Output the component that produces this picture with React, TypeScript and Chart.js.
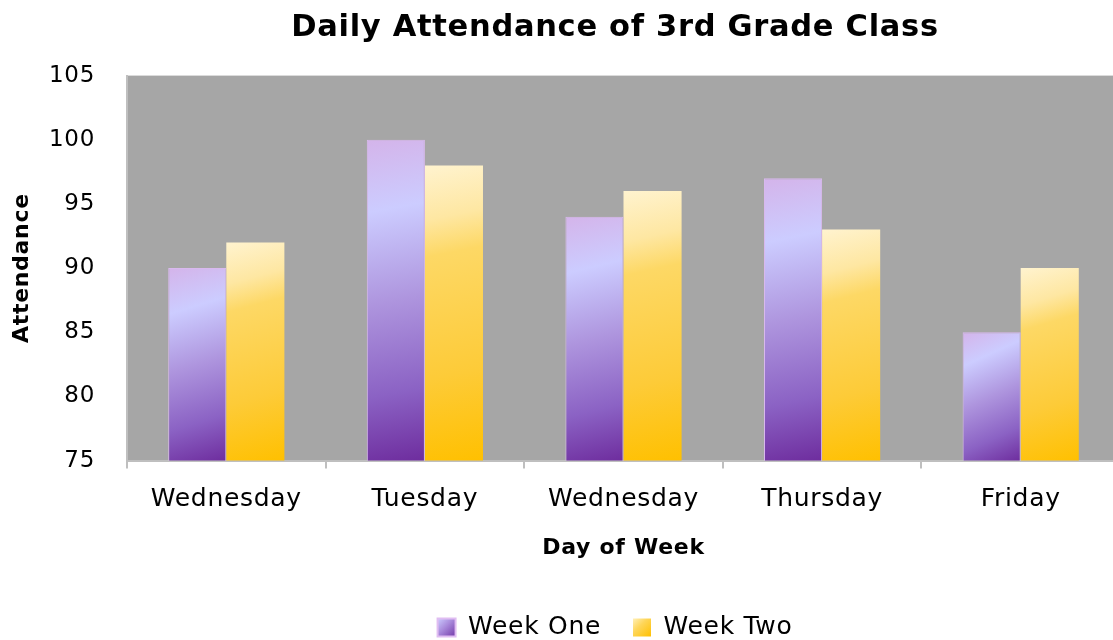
import React, { useEffect, useRef } from "react";
import { Chart, registerables } from "chart.js";

Chart.register(...registerables);

const days = ["Wednesday", "Tuesday", "Wednesday", "Thursday", "Friday"];
const weekOne = [90, 100, 94, 97, 85];
const weekTwo = [92, 98, 96, 93, 90];
const seriesNames = ["Week One", "Week Two"];
const yMin = 75;
const yMax = 105;
const yStep = 5;

const FONT = "'DejaVu Sans', sans-serif";
const CAT_PCT = 0.585;

const purpleStops: [number, string][] = [
  [0, "#D4B4EA"],
  [0.22, "#CCCCFF"],
  [0.5, "#AE95DE"],
  [0.78, "#8B62C4"],
  [1, "#6E2D9E"],
];
const yellowStops: [number, string][] = [
  [0, "#FFF3CF"],
  [0.18, "#FEE7A2"],
  [0.3, "#FDD865"],
  [0.7, "#FDCB38"],
  [1, "#FFC000"],
];
const legendPurpleStops: [number, string][] = [
  [0, "#CCCCFF"],
  [0.45, "#A98ADB"],
  [1, "#7238A8"],
];
const legendYellowStops: [number, string][] = [
  [0, "#FFF0B8"],
  [0.4, "#FED65A"],
  [1, "#FFC000"],
];

function barFill(stops: [number, string][], solid: string, dsIndex: number) {
  return (ctx: any) => {
    if (ctx.type !== "data") return solid;
    const chart = ctx.chart;
    const ys = chart.scales.y;
    const xs = chart.scales.x;
    if (!ys || !xs || !chart.chartArea) return solid;
    const top = ys.getPixelForValue(ctx.raw);
    const bottom = ys.getPixelForValue(yMin);
    const cw = (xs.right - xs.left) / days.length;
    const w = (cw * CAT_PCT) / 2;
    const c = xs.getPixelForValue(ctx.dataIndex);
    const x0 = dsIndex === 0 ? c - w : c;
    const x1 = x0 + w;
    const g = chart.ctx.createLinearGradient(x0, top, x1, bottom);
    stops.forEach(([o, col]) => g.addColorStop(o, col));
    return g;
  };
}

const legendSpecs = [
  { stops: legendPurpleStops, stroke: "#E0BDF2", width: 2 },
  { stops: legendYellowStops, stroke: "#FFE9A8", width: 0 },
];

const plotBg = {
  id: "plotBg",
  beforeUpdate(chart: any) {
    chart.ctx.letterSpacing = "0.7px";
  },
  afterUpdate(chart: any) {
    const legend = chart.legend;
    if (!legend || !legend.legendItems || !legend.legendHitBoxes) return;
    legend.legendItems.forEach((item: any, i: number) => {
      const hb = legend.legendHitBoxes[i];
      const spec = legendSpecs[i];
      if (!hb || !spec) return;
      const y0 = hb.top + Math.max((hb.height - 18) / 2, 0);
      const g = chart.ctx.createLinearGradient(hb.left, y0, hb.left + 18, y0 + 18);
      spec.stops.forEach(([o, col]) => g.addColorStop(o, col));
      item.fillStyle = g;
      item.strokeStyle = spec.stroke;
      item.lineWidth = spec.width;
    });
  },
  beforeDraw(chart: any) {
    const { ctx, chartArea } = chart;
    ctx.letterSpacing = "0.7px";
    if (!chartArea) return;
    ctx.save();
    ctx.fillStyle = "#A6A6A6";
    ctx.fillRect(chartArea.left, chartArea.top, chartArea.right - chartArea.left, chartArea.bottom - chartArea.top);
    ctx.restore();
  },
};

export default function App() {
  const ref = useRef<HTMLCanvasElement | null>(null);

  useEffect(() => {
    if (!ref.current) return;
    const chart = new Chart(ref.current, {
      type: "bar",
      data: {
        labels: days,
        datasets: [
          {
            label: seriesNames[0],
            data: weekOne,
            backgroundColor: barFill(purpleStops, "#A489D8", 0) as any,
            borderColor: "#D9B9EE",
            borderWidth: 1,
            categoryPercentage: CAT_PCT,
            barPercentage: 1,
          },
          {
            label: seriesNames[1],
            data: weekTwo,
            backgroundColor: barFill(yellowStops, "#FFD24A", 1) as any,
            borderColor: "#FFE9A8",
            borderWidth: 0,
            categoryPercentage: CAT_PCT,
            barPercentage: 1,
          },
        ],
      },
      options: {
        responsive: false,
        animation: false,
        devicePixelRatio: 1,
        layout: { padding: { top: 0, left: 9, right: 9, bottom: 0 } },
        plugins: {
          title: {
            display: true,
            text: "Daily Attendance of 3rd Grade Class",
            color: "#000",
            font: { family: FONT, size: 30.5, weight: "bold" },
            padding: { top: 10, bottom: 29 },
          },
          legend: {
            position: "bottom",
            labels: {
              color: "#000",
              font: { family: FONT, size: 25 },
              boxWidth: 18,
              boxHeight: 18,
              padding: 32,
            },
          },
          tooltip: { enabled: false },
        },
        scales: {
          x: {
            grid: {
              offset: true,
              drawOnChartArea: false,
              drawTicks: true,
              tickLength: 8,
              color: "#BFBFBF",
              lineWidth: 2,
            },
            border: { display: true, color: "#BFBFBF", width: 2 },
            ticks: {
              color: "#000",
              font: { family: FONT, size: 25 },
              padding: 16,
              maxRotation: 0,
              autoSkip: false,
            },
            title: {
              display: true,
              text: "Day of Week",
              color: "#000",
              font: { family: FONT, size: 22, weight: "bold" },
              padding: { top: 4, bottom: 22 },
            },
          },
          y: {
            min: yMin,
            max: yMax,
            grid: { display: false, drawTicks: false },
            border: { display: true, color: "#BFBFBF", width: 2 },
            ticks: {
              stepSize: yStep,
              color: "#000",
              font: { family: FONT, size: 23 },
              padding: 32,
            },
            title: {
              display: true,
              text: "Attendance",
              color: "#000",
              font: { family: FONT, size: 22, weight: "bold" },
              padding: { top: 0, bottom: 0 },
            },
            afterFit: (s: any) => {
              s.width = 118;
            },
          },
          yRight: {
            position: "right",
            display: true,
            grid: { display: false, drawTicks: false },
            border: { display: false },
            ticks: { display: false },
            afterFit: (s: any) => {
              s.width = 101;
            },
          },
        },
      },
      plugins: [plotBg],
    });
    return () => chart.destroy();
  }, []);

  return (
    <div
      style={{
        position: "fixed",
        left: 0,
        top: 0,
        width: 1113,
        height: 640,
        overflow: "hidden",
        background: "#fff",
      }}
    >
      <canvas ref={ref} width={1230} height={650} style={{ display: "block" }} />
    </div>
  );
}
